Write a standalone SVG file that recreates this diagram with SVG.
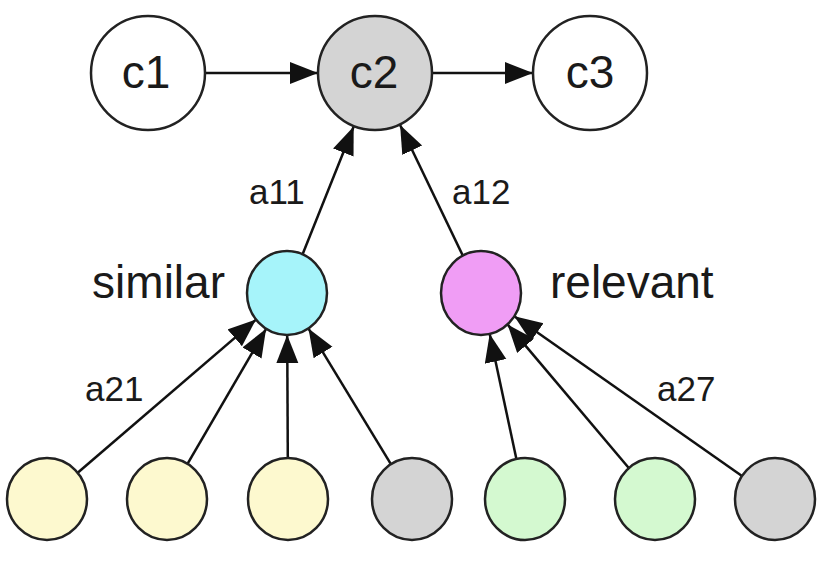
<svg xmlns="http://www.w3.org/2000/svg" width="822" height="562" viewBox="0 0 822 562">
<style>
.n{stroke:#222;stroke-width:2.5}
.big{font-family:"Liberation Sans",Arial,sans-serif;font-size:46px;fill:#1a1a1a;text-anchor:middle}
.lbl{font-family:"Liberation Sans",Arial,sans-serif;font-size:35px;fill:#1a1a1a}
.nm{font-family:"Liberation Sans",Arial,sans-serif;font-size:46px;fill:#1a1a1a}
.e{stroke:#111;stroke-width:2.5;fill:none;marker-end:url(#ah)}
</style>
<defs>
<marker id="ah" markerUnits="userSpaceOnUse" markerWidth="30" markerHeight="24" refX="28" refY="11" orient="auto">
<path d="M0,0 L28,11 L0,22 Z" fill="#111"/>
</marker>
</defs>
<rect width="822" height="562" fill="#fff"/>
<g id="connectors">
<line class="e" x1="205" y1="73" x2="318" y2="73"/>
<line class="e" x1="432" y1="73" x2="533" y2="73"/>
<line class="e" x1="302.6" y1="254.3" x2="353.7" y2="126.5"/>
<line class="e" x1="462.8" y1="255.6" x2="400.1" y2="125"/>
<line class="e" x1="77.7" y1="472.7" x2="256" y2="319.6"/>
<line class="e" x1="187.5" y1="463.8" x2="266.1" y2="328.8"/>
<line class="e" x1="287.8" y1="458" x2="287.2" y2="335"/>
<line class="e" x1="390.9" y1="464.2" x2="308.5" y2="328.6"/>
<line class="e" x1="516.4" y1="458.9" x2="489.7" y2="334"/>
<line class="e" x1="628.8" y1="468" x2="507.5" y2="324.4"/>
<line class="e" x1="742" y1="475.9" x2="514.3" y2="316.3"/>
</g>
<g id="c1"><circle class="n" cx="148" cy="73" r="57" fill="#fff"/><text class="big" x="146" y="88">c1</text></g>
<g id="c2"><circle class="n" cx="375" cy="73" r="57" fill="#d4d4d4"/><text class="big" x="374" y="88">c2</text></g>
<g id="c3"><circle class="n" cx="590" cy="73" r="57" fill="#fff"/><text class="big" x="590" y="88">c3</text></g>
<g id="similar"><ellipse class="n" cx="287" cy="293" rx="40" ry="42" fill="#a6f4fa"/><text class="nm" x="225" y="298" text-anchor="end">similar</text></g>
<g id="relevant"><ellipse class="n" cx="481" cy="293" rx="40" ry="42" fill="#f09df5"/><text class="nm" x="550" y="298">relevant</text></g>
<g id="labels">
<text class="lbl" x="249" y="204">a11</text>
<text class="lbl" x="452" y="204">a12</text>
<text class="lbl" x="85" y="401">a21</text>
<text class="lbl" x="657" y="401">a27</text>
</g>
<g id="b1"><ellipse class="n" cx="47" cy="499" rx="40" ry="41" fill="#fdf9cf"/></g>
<g id="b2"><ellipse class="n" cx="167" cy="499" rx="40" ry="41" fill="#fdf9cf"/></g>
<g id="b3"><ellipse class="n" cx="288" cy="499" rx="40" ry="41" fill="#fdf9cf"/></g>
<g id="b4"><ellipse class="n" cx="412" cy="499" rx="40" ry="41" fill="#d4d4d4"/></g>
<g id="b5"><ellipse class="n" cx="525" cy="499" rx="40" ry="41" fill="#d4f9d0"/></g>
<g id="b6"><ellipse class="n" cx="655" cy="499" rx="40" ry="41" fill="#d4f9d0"/></g>
<g id="b7"><ellipse class="n" cx="775" cy="499" rx="40" ry="41" fill="#d4d4d4"/></g>
</svg>
